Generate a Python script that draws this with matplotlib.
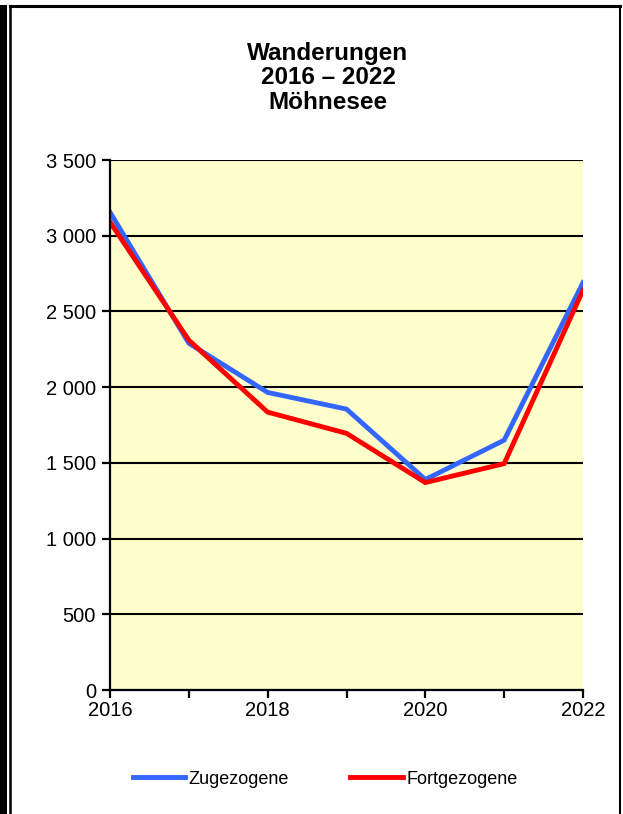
import matplotlib.pyplot as plt
from matplotlib.lines import Line2D
from matplotlib.patches import Rectangle

plt.rcParams['font.family'] = ['Liberation Sans', 'DejaVu Sans']

years = [2016, 2017, 2018, 2019, 2020, 2021, 2022]
zugezogene = [3155, 2290, 1965, 1855, 1390, 1650, 2690]
fortgezogene = [3090, 2310, 1835, 1695, 1370, 1495, 2640]
yticks = [0, 500, 1000, 1500, 2000, 2500, 3000, 3500]
ytick_labels = ['0', '500', '1 000', '1 500', '2 000', '2 500', '3 000', '3 500']
xtick_labels = ['2016', '', '2018', '', '2020', '', '2022']

W, H = 623, 814
fig = plt.figure(figsize=(W / 100, H / 100), dpi=100)
ax = fig.add_axes([110 / W, 1 - 690 / H, 473 / W, 530 / H])
ax.set_facecolor('#FFFFCC')

ax.plot(years, zugezogene, color='#3366FF', lw=3.5, label='Zugezogene', solid_joinstyle='miter')
ax.plot(years, fortgezogene, color='#FF0000', lw=3.5, label='Fortgezogene', solid_joinstyle='miter')

ax.set_xlim(2016, 2022)
ax.set_ylim(0, 3500)
ax.set_yticks(yticks)
ax.set_yticklabels(ytick_labels)
ax.set_xticks(years)
ax.set_xticklabels(xtick_labels)
ax.yaxis.grid(True, color='black', lw=1.5)
ax.set_axisbelow(True)
for s in ['top', 'right']:
    ax.spines[s].set_visible(False)
for s in ['left', 'bottom']:
    ax.spines[s].set_linewidth(1.6)
ax.tick_params(axis='both', labelsize=14.5, width=1.6, length=6, direction='out')
ax.tick_params(axis='x', pad=2)
ax.tick_params(axis='y', pad=4)

fig.text(328 / W, 1 - 78 / H, 'Wanderungen\n2016 \u2013 2022\nMöhnesee', ha='center', va='center',
         fontsize=17.5, fontweight='bold', linespacing=1.08)

fig.legend(loc='center', bbox_to_anchor=(325 / W, 1 - 779 / H), ncol=2, frameon=False,
           fontsize=13, handlelength=2.9, handletextpad=0.2, columnspacing=3.4)

# outer frame
fig.add_artist(Rectangle((0, 0), 7 / W, 1 - 5 / H, transform=fig.transFigure, color='black', lw=0))
fig.add_artist(Line2D([10 / W, 10 / W], [0, 1 - 6 / H], transform=fig.transFigure, color='black', lw=1.8))
fig.add_artist(Line2D([10 / W, 620 / W], [1 - 6 / H, 1 - 6 / H], transform=fig.transFigure, color='black', lw=2.2))
fig.add_artist(Line2D([620 / W, 620 / W], [0, 1 - 6 / H], transform=fig.transFigure, color='black', lw=1.5))

fig.savefig('out.png', dpi=100)
